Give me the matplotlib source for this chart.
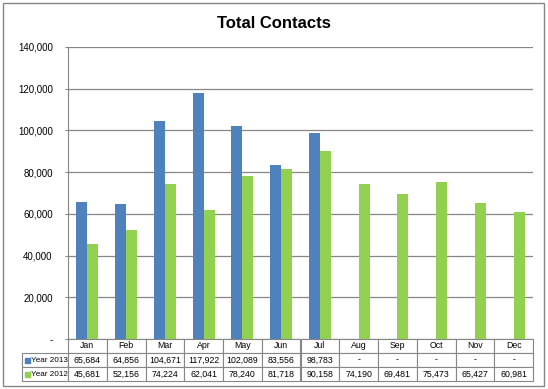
import numpy as np
import matplotlib
matplotlib.use("Agg")
import matplotlib.pyplot as plt
from matplotlib.patches import Rectangle

# data
months = ["Jan", "Feb", "Mar", "Apr", "May", "Jun", "Jul", "Aug", "Sep", "Oct", "Nov", "Dec"]
year_2013 = [65684, 64856, 104671, 117922, 102089, 83556, 98783, None, None, None, None, None]
year_2012 = [45681, 52156, 74224, 62041, 78240, 81718, 90158, 74190, 69481, 75473, 65427, 60981]
series_names = ["Year 2013", "Year 2012"]
y_ticks = [0, 20000, 40000, 60000, 80000, 100000, 120000, 140000]

blue = "#4F81BD"
green = "#92D050"
grid_col = "#868686"

plt.rcParams['font.family'] = ['Liberation Sans', 'DejaVu Sans']

fig = plt.figure(figsize=(5.48, 3.89), dpi=100)
ax = fig.add_axes([68 / 548, 50 / 389, 465 / 548, 292 / 389])

x = np.arange(len(months)) + 0.5
w = 1 / 3.5
v13 = np.array([np.nan if v is None else v for v in year_2013], dtype=float)
v12 = np.array(year_2012, dtype=float)

ax.bar(x - w / 2, v13, width=w, color=blue, zorder=3)
ax.bar(x + w / 2, v12, width=w, color=green, zorder=3)

ax.set_xlim(0, len(months))
ax.set_ylim(0, 140000)
ax.set_yticks(y_ticks)
ax.set_yticklabels(["-" if t == 0 else f"{t:,}" for t in y_ticks], fontsize=7)
ax.tick_params(axis='y', length=2, pad=9, color=grid_col)
ax.set_xticks([])
ax.yaxis.grid(True, color=grid_col, linewidth=0.9, zorder=0)
ax.set_axisbelow(True)
for s in ["top", "right", "bottom"]:
    ax.spines[s].set_visible(False)
ax.spines["left"].set_color(grid_col)

# data table under the plot
def fmt(v):
    return "-" if v is None else f"{v:,}"

cells = [[""] + months,
         [""] + [fmt(v) for v in year_2013],
         [""] + [fmt(v) for v in year_2012]]
label_w = 46 / 465
col_w = 1 / 12
tbl = ax.table(cellText=cells, colWidths=[label_w] + [col_w] * 12,
               bbox=[-label_w, -42 / 292, 1 + label_w, 42 / 292], cellLoc='center')
tbl.auto_set_font_size(False)
tbl.set_fontsize(6.3)
for (r, c), cell in tbl.get_celld().items():
    cell.set_edgecolor(grid_col)
    cell.set_linewidth(0.8)
    if r == 0 and c == 0:
        cell.visible_edges = ""

# row labels with legend keys
for i, (col, name) in enumerate(zip([blue, green], series_names)):
    yc = -(14 + 7 + 14 * i) / 292
    ax.add_patch(Rectangle((-label_w + 3 / 465, yc - 2.5 / 292), 5 / 465, 5 / 292,
                           transform=ax.transAxes, color=col, clip_on=False, zorder=5))
    ax.text(-label_w + 9 / 465, yc, name, transform=ax.transAxes, ha='left', va='center',
            fontsize=5.9, family=['Liberation Sans Narrow', 'Liberation Sans'], zorder=5)

fig.text(274 / 548, 1 - 23 / 389, "Total Contacts", ha='center', va='center',
         fontsize=12, fontweight='bold')

fig.patches.append(Rectangle((3 / 548, 3 / 389), 541 / 548, 383 / 389, transform=fig.transFigure,
                             fill=False, edgecolor=grid_col, linewidth=1))

fig.savefig("out.png", dpi=100)
